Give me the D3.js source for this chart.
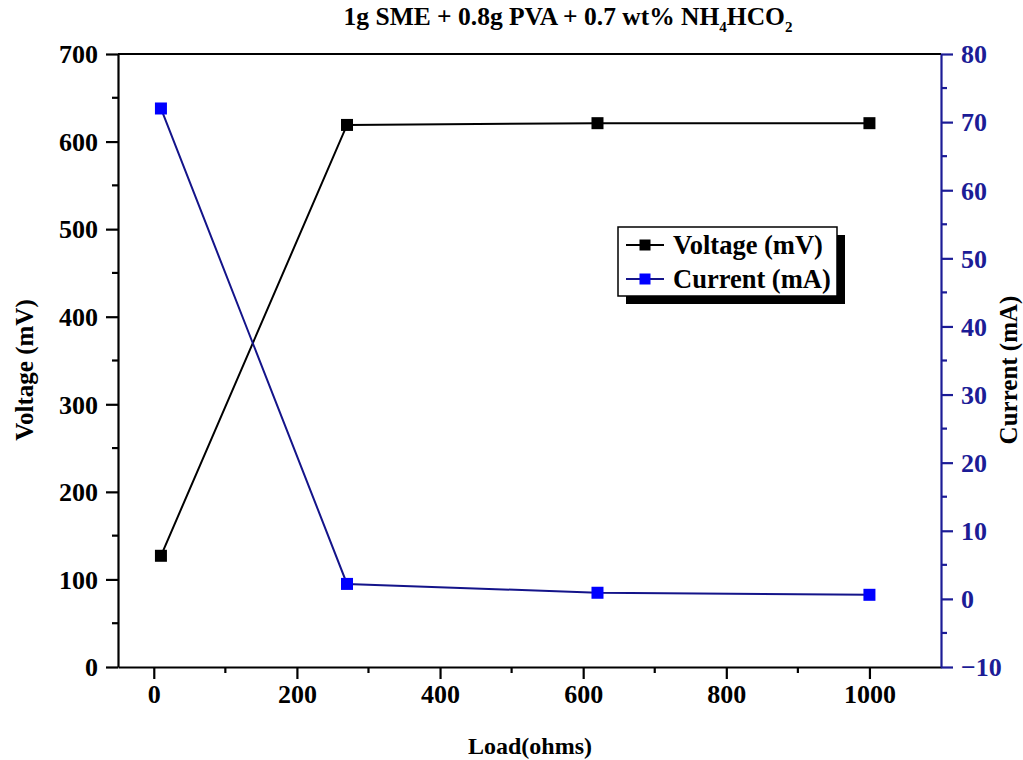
<!DOCTYPE html>
<html>
<head>
<meta charset="utf-8">
<script src="https://cdn.jsdelivr.net/npm/d3@7"></script>
<style>
  html, body { margin: 0; padding: 0; background: #fff; }
  svg { display: block; }
  text { font-family: "Liberation Serif", "Times New Roman", serif; font-weight: bold; }
</style>
</head>
<body>
<svg id="chart" width="1023" height="760"></svg>
<script>
// Load resistance (ohms)
const loads = [10, 270, 620, 1000];
// Output voltage (mV) at each load
const voltage = [127, 619, 621, 621];
// Output current (mA) at each load
const current = [72, 2.2, 0.9, 0.6];

const xTicks = [0, 200, 400, 600, 800, 1000];
const yLeftTicks = [0, 100, 200, 300, 400, 500, 600, 700];
const yRightTicks = [-10, 0, 10, 20, 30, 40, 50, 60, 70, 80];

const seriesNames = ["Voltage (mV)", "Current (mA)"];

const svg = d3.select("#chart");
const m = { left: 118, right: 941, top: 54, bottom: 667 };
const navy = "#1c1c96";

const x = d3.scaleLinear().domain([-50, 1100]).range([m.left, m.right]);
const yL = d3.scaleLinear().domain([0, 700]).range([m.bottom, m.top]);
const yR = d3.scaleLinear().domain([-10, 80]).range([m.bottom, m.top]);

function styleAxis(g, color) {
  g.select(".domain").attr("stroke", color).attr("stroke-width", 2.2);
  g.selectAll(".tick line").attr("stroke", color).attr("stroke-width", 2.2);
  g.selectAll(".tick text").attr("fill", color).attr("font-size", 26)
    .style("font-family", '"Liberation Serif", "Times New Roman", serif').style("font-weight", "bold");
}

// minor ticks
const gMinor = svg.append("g");
d3.range(100, 1100, 200).forEach(v => {
  gMinor.append("line").attr("x1", x(v)).attr("x2", x(v)).attr("y1", m.bottom).attr("y2", m.bottom + 6)
    .attr("stroke", "#000").attr("stroke-width", 2.2);
});
d3.range(50, 700, 100).forEach(v => {
  gMinor.append("line").attr("x1", m.left).attr("x2", m.left - 6).attr("y1", yL(v)).attr("y2", yL(v))
    .attr("stroke", "#000").attr("stroke-width", 2.2);
});
d3.range(-5, 80, 10).forEach(v => {
  gMinor.append("line").attr("x1", m.right).attr("x2", m.right + 6).attr("y1", yR(v)).attr("y2", yR(v))
    .attr("stroke", navy).attr("stroke-width", 2.2);
});

// top frame line
svg.append("line").attr("x1", m.left).attr("x2", m.right).attr("y1", m.top).attr("y2", m.top)
  .attr("stroke", "#000").attr("stroke-width", 2.2);

const fmt = d3.format("d");

const gx = svg.append("g").attr("transform", `translate(0,${m.bottom})`)
  .call(d3.axisBottom(x).tickValues(xTicks).tickFormat(fmt).tickSize(12).tickPadding(6).tickSizeOuter(0));
styleAxis(gx, "#000");

const gl = svg.append("g").attr("transform", `translate(${m.left},0)`)
  .call(d3.axisLeft(yL).tickValues(yLeftTicks).tickFormat(fmt).tickSize(12).tickPadding(8).tickSizeOuter(0));
styleAxis(gl, "#000");
gl.selectAll(".tick text").attr("dy", "0.34em");

const gr = svg.append("g").attr("transform", `translate(${m.right},0)`)
  .call(d3.axisRight(yR).tickValues(yRightTicks).tickFormat(fmt).tickSize(12).tickPadding(8).tickSizeOuter(0));
styleAxis(gr, navy);
gr.selectAll(".tick text").attr("dy", "0.34em");

// series
const lineV = d3.line().x((d, i) => x(loads[i])).y(d => yL(d));
const lineC = d3.line().x((d, i) => x(loads[i])).y(d => yR(d));

svg.append("path").datum(voltage).attr("d", lineV).attr("fill", "none")
  .attr("stroke", "#000").attr("stroke-width", 2);
svg.append("path").datum(current).attr("d", lineC).attr("fill", "none")
  .attr("stroke", "#14148a").attr("stroke-width", 2);

const sq = 12;
svg.append("g").selectAll("rect").data(voltage).join("rect")
  .attr("x", (d, i) => x(loads[i]) - sq / 2).attr("y", d => yL(d) - sq / 2)
  .attr("width", sq).attr("height", sq).attr("fill", "#000");
svg.append("g").selectAll("rect").data(current).join("rect")
  .attr("x", (d, i) => x(loads[i]) - sq / 2).attr("y", d => yR(d) - sq / 2)
  .attr("width", sq).attr("height", sq).attr("fill", "#0000ff");

// legend
const lg = svg.append("g").attr("transform", "translate(618,227)");
lg.append("rect").attr("x", 8).attr("y", 8).attr("width", 219).attr("height", 69).attr("fill", "#000");
lg.append("rect").attr("x", 0).attr("y", 0).attr("width", 219).attr("height", 69)
  .attr("fill", "#fff").attr("stroke", "#000").attr("stroke-width", 1.5);
const legendColors = [["#000", "#000"], ["#14148a", "#0000ff"]];
seriesNames.forEach((name, i) => {
  const cy = 18 + i * 34;
  lg.append("line").attr("x1", 8).attr("x2", 46).attr("y1", cy).attr("y2", cy)
    .attr("stroke", legendColors[i][0]).attr("stroke-width", 2);
  lg.append("rect").attr("x", 21.5).attr("y", cy - 5.5).attr("width", 11).attr("height", 11)
    .attr("fill", legendColors[i][1]);
  lg.append("text").attr("x", 55).attr("y", cy + 9).attr("font-size", 26.5).attr("fill", "#000").text(name);
});

// title
const title = svg.append("text").attr("x", 568).attr("y", 25).attr("text-anchor", "middle")
  .attr("font-size", 25.5).attr("fill", "#000");
title.append("tspan").text("1g SME + 0.8g PVA + 0.7 wt% NH");
title.append("tspan").attr("font-size", 15).attr("dy", 7).text("4");
title.append("tspan").attr("dy", -7).text("HCO");
title.append("tspan").attr("font-size", 15).attr("dy", 7).text("2");

// axis titles
svg.append("text").attr("x", 530).attr("y", 754).attr("text-anchor", "middle")
  .attr("font-size", 24).attr("fill", "#000").text("Load(ohms)");
svg.append("text").attr("transform", "translate(33,370) rotate(-90)").attr("text-anchor", "middle")
  .attr("font-size", 25).attr("fill", "#000").text("Voltage (mV)");
svg.append("text").attr("transform", "translate(1017,370) rotate(-90)").attr("text-anchor", "middle")
  .attr("font-size", 25).attr("fill", "#000").text("Current (mA)");
</script>
</body>
</html>
